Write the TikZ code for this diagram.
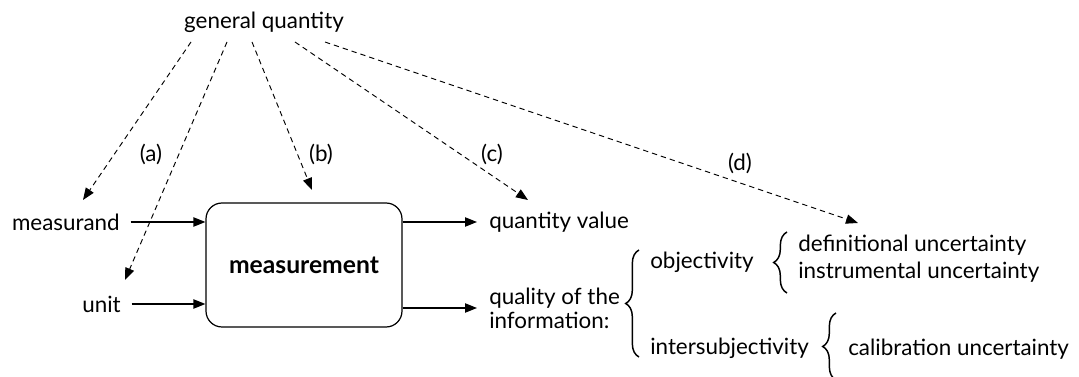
\documentclass[tikz,border=0pt]{standalone}
\usepackage{fontspec}
\setmainfont{Lato}
\usetikzlibrary{arrows.meta, decorations.pathreplacing}
\tikzset{
    txt/.style={inner sep=0pt, font=\fontsize{16.8}{18}\selectfont},
    proc/.style={draw, line width=0.9pt, rounded corners=12pt, minimum width=147pt, minimum height=93pt, inner sep=0pt, font=\fontsize{18.5}{20}\selectfont\bfseries},
    flow/.style={-{Triangle[length=9pt, width=7pt]}, line width=0.9pt},
    gen/.style={-{Triangle[length=9pt, width=7pt]}, line width=0.7pt, dash pattern=on 4pt off 3pt},
    brc/.style={decorate, decoration={brace, amplitude=#1}, line width=1.1pt}
}

\begin{document}
\begin{tikzpicture}[x=0.75pt, y=-0.75pt]
    \useasboundingbox (0,0) rectangle (1079,377);
    \path
    (264,22) node[txt] (gq) {general quantity}
    (120,222) node[txt, anchor=east] (msd) {measurand}
    (121,304) node[txt, anchor=east] (unit) {unit}
    (304,265) node[proc] (m) {measurement}
    (489,222) node[txt, anchor=west] (qv) {quantity value}
    (489,308) node[txt, anchor=west, align=left] (qi) {quality of the\\information:}
    (650,262) node[txt, anchor=west] (obj) {objectivity}
    (798,245) node[txt, anchor=west] (def) {definitional uncertainty}
    (798,272) node[txt, anchor=west] (ins) {instrumental uncertainty}
    (650,348) node[txt, anchor=west] (isub) {intersubjectivity}
    (848,349) node[txt, anchor=west] (cal) {calibration uncertainty}
    (151,154) node[txt] (la) {(a)}
    (321,154) node[txt] (lb) {(b)}
    (492,154) node[txt] (lc) {(c)}
    (740,163) node[txt] (ld) {(d)};

    % free ends of the dashed arrows
    \coordinate (s1) at (191,42);
    \coordinate (s2) at (227,42);
    \coordinate (s3) at (252,42);
    \coordinate (s4) at (295,42);
    \coordinate (s5) at (325,42);
    \coordinate (e1) at (83,200);
    \coordinate (e2) at (125,280);
    \coordinate (e3) at (312,190);
    \coordinate (e4) at (528,200);
    \coordinate (e5) at (858,223);

    \path
    (msd) edge[flow, shorten <=8pt] (m.west |- msd)
    (unit) edge[flow, shorten <=8pt] (m.west |- unit)
    (m.east |- qv) edge[flow, shorten >=9pt] (qv)
    (m.east |- qi) edge[flow, shorten >=9pt] (qi)
    (s1) edge[gen] (e1)
    (s2) edge[gen] (e2)
    (s3) edge[gen] (e3)
    (s4) edge[gen] (e4)
    (s5) edge[gen] (e5);

    \draw[brc=10pt] (639,357) -- (639,250);
    \draw[brc=10pt] (787,293) -- (787,232);
    \draw[brc=10pt] (836,380) -- (836,313);
\end{tikzpicture}
\end{document}
